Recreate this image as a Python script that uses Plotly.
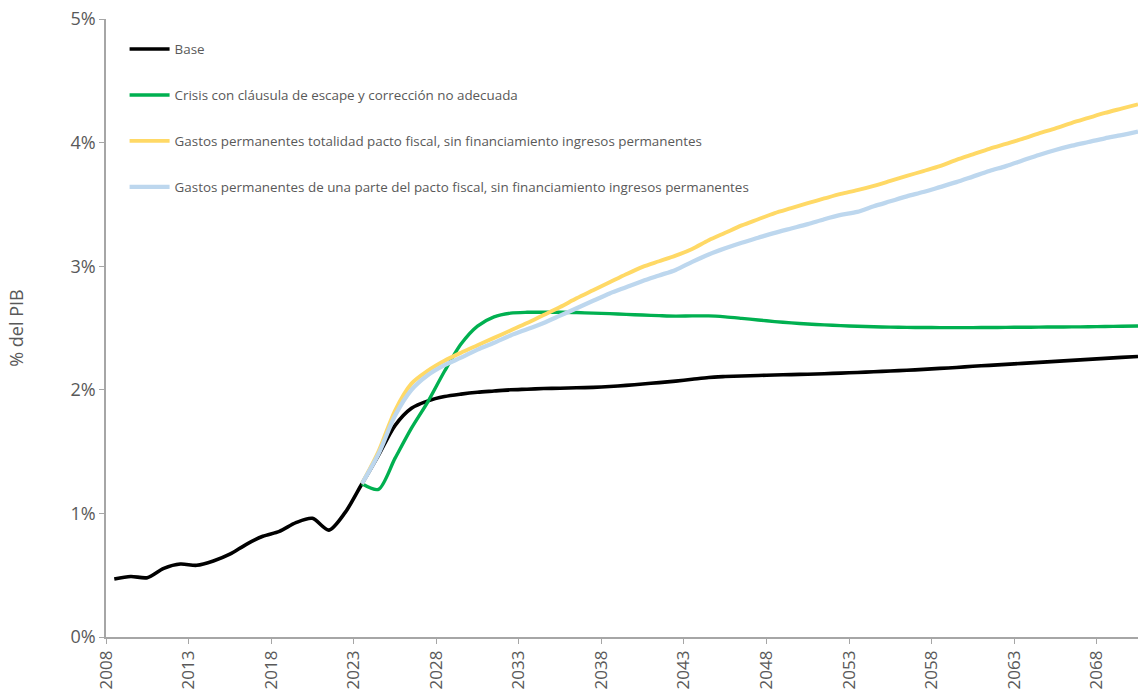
import plotly.graph_objects as go

# Años de la proyección
years = list(range(2008, 2071))
scenario_years = list(range(2023, 2071))
tick_years = list(range(2008, 2071, 5))
y_ticks = [0, 1, 2, 3, 4, 5]

# Escenario base (% del PIB)
base = [
    0.47, 0.49, 0.48, 0.555, 0.59, 0.58, 0.615, 0.67, 0.75, 0.815,
    0.855, 0.925, 0.96, 0.865, 1.01, 1.24, 1.47, 1.71, 1.85, 1.91,
    1.945, 1.965, 1.98, 1.99, 2.0, 2.005, 2.01, 2.013, 2.016, 2.02,
    2.027, 2.036, 2.047, 2.058, 2.07, 2.085, 2.1, 2.107, 2.112, 2.116,
    2.12, 2.123, 2.126, 2.13, 2.135, 2.14, 2.146, 2.152, 2.158, 2.165,
    2.173, 2.181, 2.19, 2.198, 2.206, 2.214, 2.222, 2.23, 2.238, 2.246,
    2.254, 2.262, 2.27,
]

# Crisis con cláusula de escape y corrección no adecuada (desde 2023)
crisis = [
    1.24, 1.195, 1.445, 1.69, 1.905, 2.15, 2.37, 2.515, 2.59, 2.62,
    2.627, 2.628, 2.627, 2.625, 2.62, 2.616, 2.61, 2.605, 2.6, 2.596,
    2.598, 2.598, 2.59, 2.578, 2.565, 2.552, 2.541, 2.532, 2.525, 2.519,
    2.514, 2.51, 2.507, 2.505, 2.504, 2.503, 2.503, 2.503, 2.504, 2.505,
    2.506, 2.507, 2.508, 2.509, 2.51, 2.512, 2.514, 2.516,
]

# Gastos permanentes totalidad pacto fiscal (desde 2023)
pacto_total = [
    1.24, 1.5, 1.83, 2.05, 2.155, 2.235, 2.3, 2.36, 2.42, 2.48,
    2.54, 2.605, 2.67, 2.74, 2.805, 2.87, 2.935, 2.995, 3.04, 3.085,
    3.14, 3.21, 3.27, 3.33, 3.38, 3.43, 3.47, 3.51, 3.548, 3.585,
    3.615, 3.65, 3.69, 3.73, 3.77, 3.81, 3.86, 3.905, 3.95, 3.99,
    4.03, 4.075, 4.115, 4.16, 4.2, 4.24, 4.275, 4.31,
]

# Gastos permanentes de una parte del pacto fiscal (desde 2023)
pacto_parte = [
    1.24, 1.48, 1.79, 2.0, 2.12, 2.2, 2.26, 2.325, 2.38, 2.44,
    2.49, 2.54, 2.6, 2.66, 2.72, 2.78, 2.83, 2.88, 2.925, 2.97,
    3.035, 3.095, 3.145, 3.19, 3.23, 3.27, 3.305, 3.34, 3.38, 3.415,
    3.44, 3.485, 3.525, 3.565, 3.6, 3.64, 3.68, 3.725, 3.77, 3.81,
    3.855, 3.9, 3.94, 3.975, 4.005, 4.035, 4.06, 4.09,
]

series = [
    ("Base", years, base, "#000000", 3.6),
    ("Crisis con cláusula de escape y corrección no adecuada", scenario_years, crisis, "#00B050", 3.4),
    ("Gastos permanentes totalidad pacto fiscal, sin financiamiento ingresos permanentes",
     scenario_years, pacto_total, "#FFD966", 3.9),
    ("Gastos permanentes de una parte del pacto fiscal, sin financiamiento ingresos permanentes",
     scenario_years, pacto_parte, "#BDD7EE", 4.3),
]

FONT = "Open Sans"
GRAY = "#595959"
AXIS = "#A6A6A6"

fig = go.Figure()
for i, (name, xs, ys, color, width) in enumerate(series):
    fig.add_trace(go.Scatter(
        x=xs, y=ys, name=name, mode="lines",
        line=dict(color=color, width=width, shape="spline", smoothing=0.8),
        legendgroup=f"g{i}",
        hoverinfo="skip",
    ))

fig.update_layout(
    width=1138, height=696,
    margin=dict(l=106, r=0, t=19, b=59),
    plot_bgcolor="white", paper_bgcolor="white",
    font=dict(family=FONT, color=GRAY),
    showlegend=True,
    legend=dict(
        x=0.018, y=0.976, xanchor="left", yanchor="top",
        bgcolor="rgba(0,0,0,0)",
        font=dict(family=FONT, size=13.4, color=GRAY),
        tracegroupgap=25.5,
        traceorder="grouped",
        itemwidth=40,
    ),
    xaxis=dict(
        range=[2007.5, 2070],
        tickmode="array",
        tickvals=[t - 0.5 for t in tick_years],
        ticktext=[str(t) for t in tick_years],
        tickangle=-90,
        ticks="outside", ticklen=5, tickcolor=AXIS,
        showline=True, linecolor=AXIS, linewidth=1.5,
        showgrid=False, zeroline=False,
        tickfont=dict(family=FONT, size=17, color=GRAY),
    ),
    yaxis=dict(
        range=[0, 5],
        tickmode="array",
        tickvals=y_ticks,
        ticktext=[f"{v}%" for v in y_ticks],
        ticks="outside", ticklen=5, tickcolor=AXIS,
        showline=True, linecolor=AXIS, linewidth=1.5,
        showgrid=False, zeroline=False,
        tickfont=dict(family=FONT, size=18, color=GRAY),
        title=dict(text="% del PIB", font=dict(family=FONT, size=18, color=GRAY), standoff=42),
    ),
)

fig.write_html("out.html")
